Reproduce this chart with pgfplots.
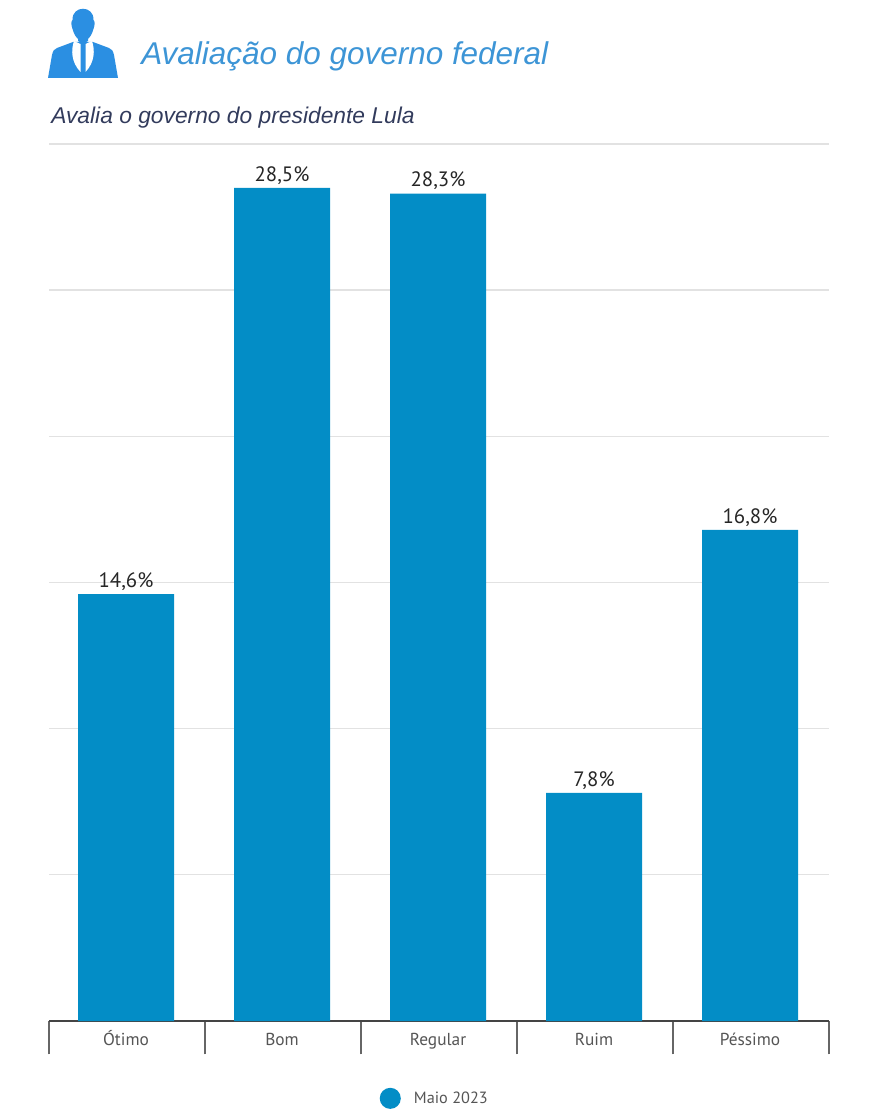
\documentclass[border=0pt]{standalone}
\usepackage{fontspec}
\setmainfont{PT Sans}
\newfontfamily\titlefont{Liberation Sans}
\usepackage{pgfplots}
\pgfplotsset{compat=1.18}
\definecolor{barblue}{HTML}{038DC6}
\definecolor{titleblue}{HTML}{3D95D6}
\definecolor{iconblue}{HTML}{2B8FE2}
\definecolor{subnavy}{HTML}{323B5C}
\definecolor{gridgray}{HTML}{E2E2E2}
\definecolor{axisdark}{HTML}{444444}
\definecolor{tickgray}{HTML}{666666}
\definecolor{labelgray}{HTML}{555555}
\begin{document}
\begin{tikzpicture}[x=1pt,y=1pt]
\begin{axis}[
    at={(0pt,0pt)},
    anchor=south west,
    scale only axis,
    width=585pt,
    height=657.75pt,
    xmin=-0.5, xmax=4.5,
    ymin=0, ymax=30,
    axis x line*=bottom,
    axis y line*=left,
    y axis line style={draw=none},
    x axis line style={draw=axisdark,line width=1.8pt,-},
    ytick={0,5,10,15,20,25,30},
    yticklabels={},
    ytick style={draw=none},
    ymajorgrids=true,
    grid style={gridgray,line width=1pt},
    xtick={0,1,2,3,4},
    xticklabels={Ótimo,Bom,Regular,Ruim,Péssimo},
    minor xtick={-0.5,0.5,1.5,2.5,3.5,4.5},
    major x tick style={draw=none},
    minor x tick style={draw=tickgray,line width=1pt},
    tick align=outside,
    minor tick length=25pt,
    major tick length=0pt,
    x tick label style={font=\fontsize{13pt}{15pt}\selectfont,text=labelgray,yshift=-9.5pt,xshift=-0.75pt,anchor=north,inner sep=0pt,text height=9pt},
    ybar,
    bar width=72pt,
    bar shift=-0.75pt,
    point meta=y,
    nodes near coords={\pgfmathprintnumber[fixed,fixed zerofill,precision=1,use comma]{\pgfplotspointmeta}\%},
    nodes near coords style={font=\fontsize{15.6pt}{17pt}\selectfont,text=black!85,/pgf/number format/assume math mode=true,inner sep=2.5pt},
    legend style={at={(0,0)},anchor=west,xshift=268.5pt,yshift=-58pt,draw=none,fill=none,font=\fontsize{12.2pt}{14pt}\selectfont,text=labelgray},
    legend image code/.code={\fill[barblue,overlay] (-15.75pt,0pt) circle (7.9pt);},
]
\addplot[fill=barblue,draw=none] coordinates {
    (0,14.6)
    (1,28.5)
    (2,28.3)
    (3,7.8)
    (4,16.8)
};
\addlegendentry{Maio 2023}
\end{axis}
% image pixel coordinates from here on
\begin{scope}[shift={(-36.75pt,765.75pt)},x=0.75pt,y=-0.75pt]
\path[use as bounding box] (0,0) rectangle (871,1120);
% icon: jacket, shirt, tie, head
\fill[iconblue] (73,42) -- (57,48) .. controls (54,49) and (53,51) .. (52,55) -- (48,78) -- (118,78)
  -- (114,55) .. controls (113,51) and (112,49) .. (109,48) -- (93,42) -- cycle;
\fill[white] (74,41) .. controls (71,50) and (71,62) .. (80.5,72) -- (80.5,44) -- cycle;
\fill[white] (92,41) .. controls (95,50) and (95,62) .. (85.5,72) -- (85.5,44) -- cycle;
\fill[iconblue] (81,44) -- (85,44) -- (84.5,49) -- (85,67) -- (83,71) -- (81,67) -- (81.5,49) -- cycle;
\fill[iconblue] (72.5,20) .. controls (72,5) and (94,5) .. (93.5,20)
  .. controls (95,21) and (95,25) .. (93.5,29)
  .. controls (92,35) and (89,38) .. (88,39) -- (88,41) .. controls (86,43) and (80,43) .. (78,41) -- (78,39)
  .. controls (77,38) and (74,35) .. (72.5,29)
  .. controls (71,25) and (71,21) .. (72.5,20) -- cycle;
% title and subtitle
\node[anchor=base west,inner sep=0pt,text=titleblue] at (141,65)
  {\titlefont\itshape\fontsize{23.6pt}{26pt}\selectfont Avaliação do governo federal};
\node[anchor=base west,inner sep=0pt,text=subnavy] at (51,124)
  {\titlefont\itshape\fontsize{17.1pt}{19pt}\selectfont Avalia o governo do presidente Lula};
\end{scope}
\end{tikzpicture}
\end{document}
